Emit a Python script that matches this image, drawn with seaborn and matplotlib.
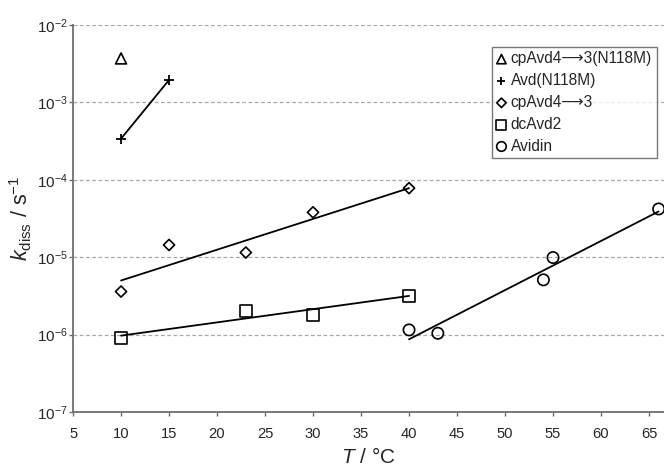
import numpy as np
import pandas as pd
import seaborn as sns
import matplotlib.pyplot as plt
from matplotlib.ticker import LogLocator, NullLocator

# values (T in °C, k_diss in 1/s)
tri_T = [10]
tri_k = [3.7e-3]

plus_T = [10, 15]
plus_k = [3.4e-4, 1.95e-3]

dia_T = [10, 15, 23, 30, 40]
dia_k = [3.6e-6, 1.44e-5, 1.15e-5, 3.8e-5, 7.8e-5]
dia_fit_T = [10, 40]
dia_fit_k = [5.0e-6, 7.8e-5]

sq_T = [10, 23, 30, 40]
sq_k = [9.1e-7, 2.02e-6, 1.79e-6, 3.18e-6]
sq_fit_T = [10, 40]
sq_fit_k = [9.7e-7, 3.16e-6]

circ_T = [40, 43, 54, 55, 66]
circ_k = [1.15e-6, 1.04e-6, 5.1e-6, 9.9e-6, 4.2e-5]
circ_fit_T = [40, 66]
circ_fit_k = [8.7e-7, 3.9e-5]

labels = ["cpAvd4\u27f63(N118M)", "Avd(N118M)", "cpAvd4\u27f63", "dcAvd2", "Avidin"]

sns.set_style("white")
plt.rcParams['font.family'] = ['Liberation Sans', 'DejaVu Sans']
plt.rcParams['mathtext.fontset'] = 'custom'
plt.rcParams['mathtext.rm'] = 'Liberation Sans'
plt.rcParams['mathtext.it'] = 'Liberation Sans:italic'
plt.rcParams['mathtext.bf'] = 'Liberation Sans:bold'

fig = plt.figure(figsize=(6.64, 4.70), dpi=100)
ax = fig.add_axes([0.11, 0.1234, 0.89, 0.8234])

spine_col = '#6e6e6e'
open_kw = dict(facecolor='none', edgecolor='black', linewidth=1.2)

# fit lines
for xs, ys in [(plus_T, plus_k), (dia_fit_T, dia_fit_k), (sq_fit_T, sq_fit_k), (circ_fit_T, circ_fit_k)]:
    sns.lineplot(x=xs, y=ys, ax=ax, color='black', linewidth=1.3, estimator=None, sort=False)

# markers
sns.scatterplot(x=tri_T, y=tri_k, ax=ax, marker='^', s=62, label=labels[0], zorder=3, **open_kw)
sns.scatterplot(x=plus_T, y=plus_k, ax=ax, marker='+', s=55, color='black', linewidth=1.3,
                label=labels[1], zorder=3)
sns.scatterplot(x=dia_T, y=dia_k, ax=ax, marker='D', s=32, label=labels[2], zorder=3, **open_kw)
sns.scatterplot(x=sq_T, y=sq_k, ax=ax, marker='s', s=72, label=labels[3], zorder=3, **open_kw)
sns.scatterplot(x=circ_T, y=circ_k, ax=ax, marker='o', s=66, label=labels[4], zorder=3, **open_kw)

ax.set_yscale('log')
ax.set_ylim(1e-7, 1e-2)
ax.set_xlim(5, 66.56)
ax.set_xticks(range(5, 70, 5))
ax.yaxis.set_major_locator(LogLocator(base=10, numticks=10))
ax.yaxis.set_minor_locator(NullLocator())

ax.grid(axis='y', which='major', color='#a8a8a8', linestyle=(0, (3, 2)), linewidth=0.9)
ax.grid(axis='x', visible=False)
ax.set_axisbelow(True)

for side in ['top', 'right']:
    ax.spines[side].set_visible(False)
for side in ['left', 'bottom']:
    ax.spines[side].set_color(spine_col)
    ax.spines[side].set_linewidth(1.3)

ax.tick_params(axis='both', which='major', direction='out', length=3, width=1,
               color=spine_col, pad=2, bottom=True, left=True)
ax.tick_params(axis='x', pad=8, labelsize=10.6)
ax.tick_params(axis='y', pad=1, labelsize=11)

ax.set_xlabel('$T$ / °C', fontsize=15, labelpad=4)
ax.set_ylabel('$k_{\\rm diss}$ / s$^{-1}$', fontsize=15.5, labelpad=2)

leg = ax.legend(loc='upper right', bbox_to_anchor=(0.989, 0.901), bbox_transform=fig.transFigure,
                fontsize=11.2, frameon=True, fancybox=False, markerscale=0.85,
                handlelength=0.6, handletextpad=0.3, labelspacing=0.44, borderpad=0.3,
                borderaxespad=0)
leg.get_frame().set_edgecolor('#555555')
leg.get_frame().set_linewidth(1.0)

fig.savefig('out.png', dpi=100)
